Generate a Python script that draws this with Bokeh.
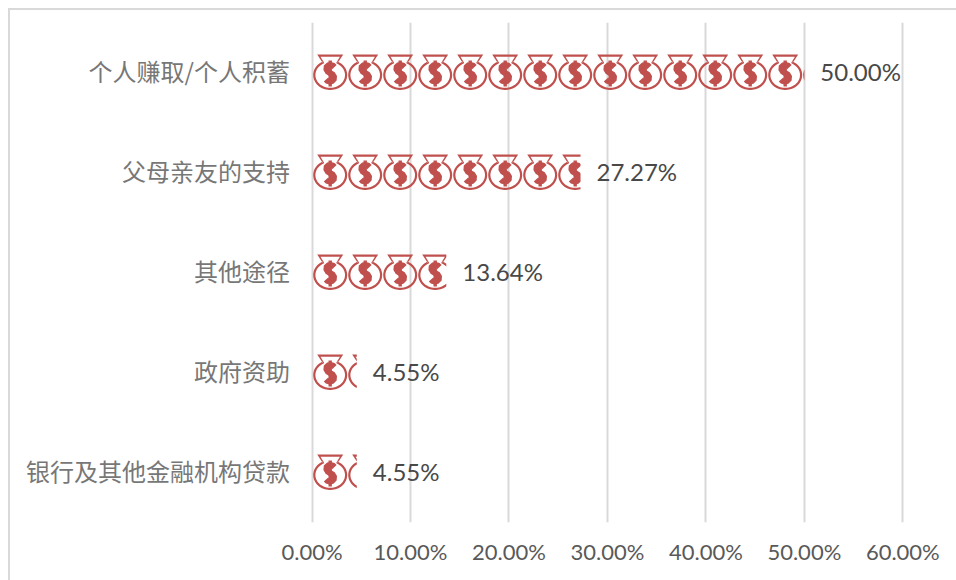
import numpy as np
from bokeh.embed import file_html
from bokeh.resources import INLINE
from bokeh.plotting import figure
from bokeh.models import FixedTicker, PrintfTickFormatter, Range1d, ColumnDataSource
from bokeh.core.properties import value

categories = ["个人赚取/个人积蓄", "父母亲友的支持", "其他途径", "政府资助", "银行及其他金融机构贷款"]
shares = [50.00, 27.27, 13.64, 4.55, 4.55]
x_ticks = [0, 10, 20, 30, 40, 50, 60]

PX_PER_PCT = 9.847   # horizontal scale of the frame
PX_PER_ROW = 100.0   # vertical scale of the frame
ICON_PERIOD = 35.0
ICON_LEFT = 1.2
RED = "#c0504d"


# ---- pictogram template, in pixels; origin = bag centre x, bag top y ----
def bag_ring(inset):
    angles = np.radians(np.linspace(-64, 244, 60))
    bx = (17.0 - inset) * np.cos(angles)
    by = 20.5 + (15.0 - inset) * np.sin(angles)
    neck_x = 7.6 - inset * 0.7
    neck = [(-13.0 + inset * 1.5, inset), (13.0 - inset * 1.5, inset), (neck_x, 8.2)]
    tail = [(-neck_x, 8.2)]
    return neck + list(zip(bx, by)) + tail


def thicken(path, half):
    pts = np.array(path, dtype=float)
    d = np.gradient(pts, axis=0)
    d /= np.maximum(np.hypot(d[:, 0], d[:, 1]), 1e-6)[:, None]
    n = np.column_stack([-d[:, 1], d[:, 0]])
    return [tuple(q) for q in pts + n * half] + [tuple(q) for q in (pts - n * half)[::-1]]


S_PATH = [(4.2, 12.6), (2.9, 11.2), (0.7, 10.6), (-1.9, 10.8), (-3.7, 12.4), (-3.9, 14.8),
          (-2.5, 17.0), (0.0, 18.6), (2.5, 20.0), (3.9, 22.2), (3.7, 24.8), (1.9, 26.6),
          (-0.7, 27.0), (-2.9, 26.4), (-4.2, 25.0)]
S_SHAPE = thicken(S_PATH, 3.0)
BAR_SHAPE = [(-1.7, 6.0), (1.7, 6.0), (1.7, 32.0), (-1.7, 32.0)]
BAG_OUT = bag_ring(0.0)
BAG_IN = bag_ring(2.2)


def clip_right(poly, limit):
    out = []
    for i, (x1, y1) in enumerate(poly):
        x0, y0 = poly[i - 1]
        if (x0 <= limit) != (x1 <= limit):
            t = (limit - x0) / (x1 - x0)
            out.append((limit, y0 + t * (y1 - y0)))
        if x1 <= limit:
            out.append((x1, y1))
    return out


def to_data(poly, cx_px, row):
    xs = [(cx_px + q[0]) / PX_PER_PCT for q in poly]
    ys = [row - 0.5 + (q[1] - 18.0) / PX_PER_ROW for q in poly]
    return xs, ys


pxs, pys = [], []
for row, share in enumerate(shares, start=1):
    limit_px = share * PX_PER_PCT
    n_icons = int(np.ceil((limit_px - ICON_LEFT) / ICON_PERIOD))
    for k in range(n_icons):
        cx = ICON_LEFT + ICON_PERIOD * k + 17.0
        lim = limit_px - cx
        outer = clip_right(BAG_OUT, lim)
        inner = clip_right(BAG_IN, lim)
        if len(outer) >= 3:
            rings_x, rings_y = [], []
            for ring in (outer, inner):
                if len(ring) >= 3:
                    rx, ry = to_data(ring, cx, row)
                    rings_x.append(rx)
                    rings_y.append(ry)
            pxs.append([rings_x])
            pys.append([rings_y])
        for shape in (S_SHAPE, BAR_SHAPE):
            part = clip_right(shape, lim)
            if len(part) >= 3:
                rx, ry = to_data(part, cx, row)
                pxs.append([[rx]])
                pys.append([[ry]])

W, H = 956, 580
FRAME_LEFT, FRAME_TOP, FRAME_BOTTOM = 308, 22, 522
zero_in_frame = 3.5

p = figure(width=W, height=H, output_backend="svg", toolbar_location=None,
           x_range=Range1d(-zero_in_frame / PX_PER_PCT, (W - FRAME_LEFT - zero_in_frame) / PX_PER_PCT),
           y_range=Range1d(len(categories), 0),
           min_border_left=FRAME_LEFT, min_border_right=0,
           min_border_top=FRAME_TOP, min_border_bottom=H - FRAME_BOTTOM)
p.outline_line_color = None
p.background_fill_color = None
p.border_fill_color = None
p.styles = {
    "background-image": "linear-gradient(#d9d9d9,#d9d9d9),linear-gradient(#d9d9d9,#d9d9d9)",
    "background-repeat": "no-repeat",
    "background-position": "8px 8px, 8px 8px",
    "background-size": "100% 2px, 2px 100%",
}

p.xgrid.ticker = FixedTicker(ticks=x_ticks)
p.xgrid.grid_line_color = "#d9d9d9"
p.xgrid.grid_line_width = 2
p.ygrid.visible = False

p.xaxis.ticker = FixedTicker(ticks=x_ticks)
p.xaxis.formatter = PrintfTickFormatter(format="%.2f%%")
p.xaxis.axis_line_color = None
p.xaxis.major_tick_line_color = None
p.xaxis.minor_tick_line_color = None
p.xaxis.major_label_text_font = "Lato"
p.xaxis.major_label_text_font_size = "22px"
p.xaxis.major_label_text_color = "#595959"
p.xaxis.major_label_standoff = 9

row_centres = [i + 0.5 for i in range(len(categories))]
p.yaxis.visible = False

p.multi_polygons(xs=pxs, ys=pys, fill_color=RED, line_color=None)

cats = ColumnDataSource(dict(x=[0] * len(categories), y=row_centres, t=categories))
p.text("x", "y", text="t", source=cats, x_offset=-22, y_offset=-2, text_align="right",
       text_baseline="middle", text_font=value("Noto Sans CJK SC"), text_font_size="24px",
       text_color="#777777")

labels = ColumnDataSource(dict(x=shares, y=row_centres, t=[f"{s:.2f}%" for s in shares]))
p.text("x", "y", text="t", source=labels, x_offset=16, y_offset=-1, text_baseline="middle",
       text_font=value("Lato"), text_font_size="24px", text_color="#484848")

# Text is drawn outside the frame on the left, so the glyph renderer must not be clipped there.
for r in p.renderers:
    r.level = "overlay"

open("out.html", "w").write(file_html(p, INLINE))
